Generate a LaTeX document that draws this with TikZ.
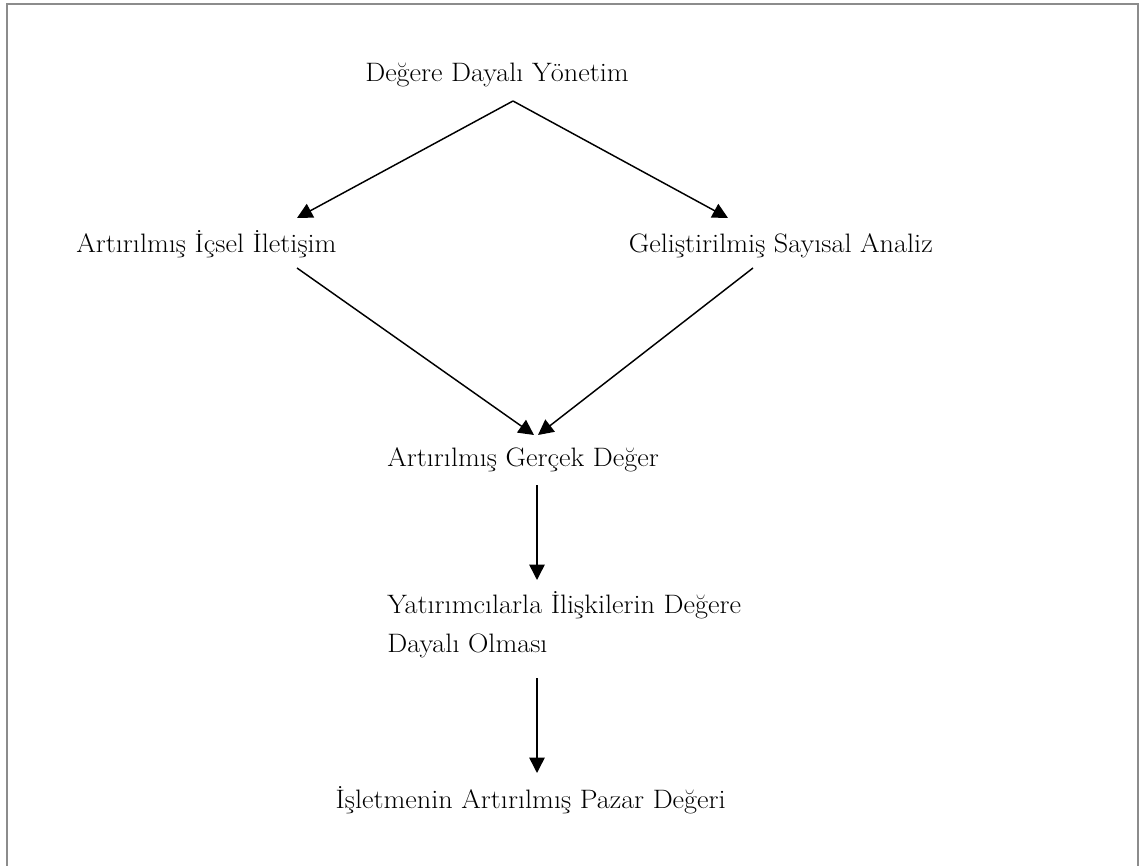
\documentclass[tikz,border=0pt]{standalone}
\usepackage{fontspec}
\setmainfont{Latin Modern Roman}[FakeStretch=1.06]
\usetikzlibrary{arrows.meta,calc}
\begin{document}
\begin{tikzpicture}[x=0.75pt,y=-0.75pt,
  lbl/.style={inner sep=0pt, anchor=base west, align=left,
    font=\fontsize{20}{29.25}\selectfont},
  lble/.style={lbl, anchor=base east},
  link/.style={line width=1.1pt, -{Triangle[length=11.5pt,width=11.5pt]}},
  frame/.style={draw=gray!90, line width=1.5pt}]
\useasboundingbox (0,0) rectangle (1147,866);
% open frame round the chart
\draw[frame] (7,870) -- (7,4) -- (1137.5,4) -- (1137.5,870);

% labels
\node[lbl]  (dyy) at (365,82)  {Değere Dayalı Yönetim};
\node[lbl]  (aii) at (76,253)  {Artırılmış İçsel İletişim};
\node[lble] (gsa) at (933,253) {Geliştirilmiş Sayısal Analiz};
\node[lbl]  (agd) at (387,467) {Artırılmış Gerçek Değer};
\node[lbl]  (yid) at (387,652) {Yatırımcılarla İlişkilerin Değere\\Dayalı Olması};
\node[lble] (ipd) at (726,808) {İşletmenin Artırılmış Pazar Değeri};

% connectors
\draw[link] ($(dyy.base west)+(148,19)$) -- ($(aii.base west)+(221,-35)$);
\draw[link] ($(dyy.base west)+(148,19)$) -- ($(gsa.base east)+(-205,-35)$);
\draw[link] ($(aii.base west)+(221,15)$) -- ($(agd.base west)+(147,-32)$);
\draw[link] ($(gsa.base east)+(-180,15)$) -- ($(agd.base west)+(151,-32)$);
\draw[link] ($(agd.base west)+(150,18)$) -- ($(yid.base west)+(150,-72)$);
\draw[link] ($(yid.base west)+(150,26)$) -- ($(ipd.base east)+(-189,-35)$);
\end{tikzpicture}
\end{document}
